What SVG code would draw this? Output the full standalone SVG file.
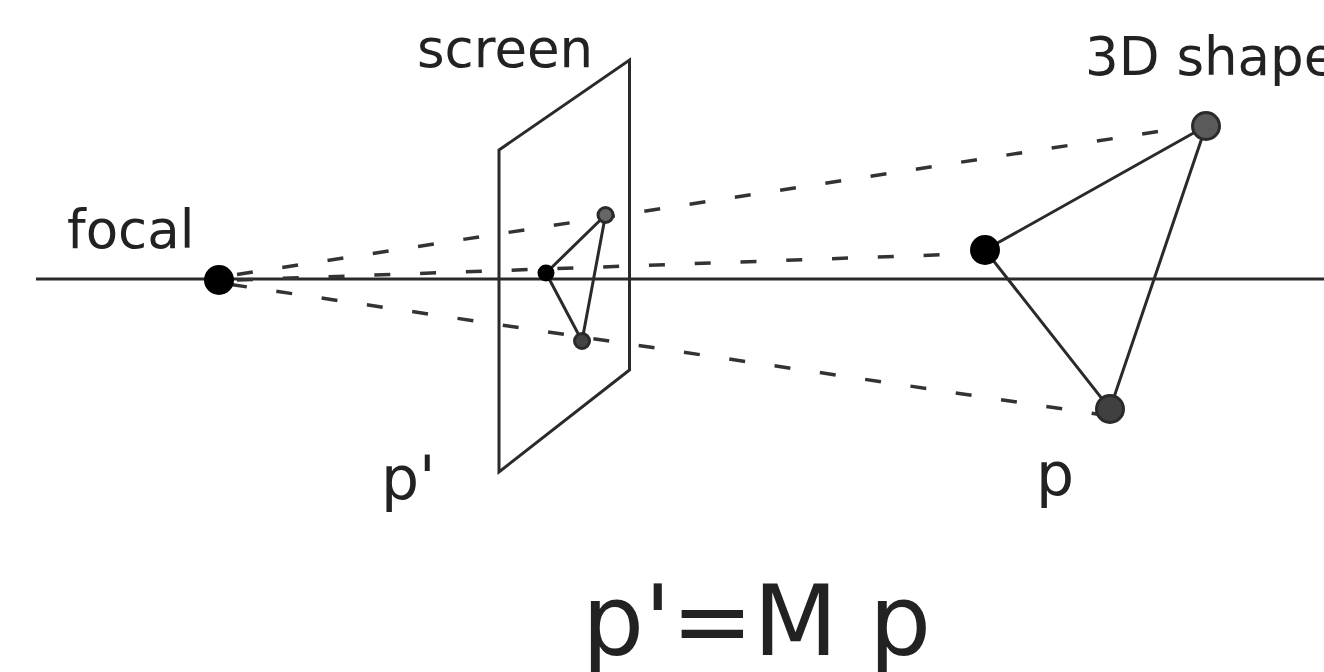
<svg xmlns="http://www.w3.org/2000/svg" width="1324" height="672" viewBox="0 0 1324 672">
<style>
text{font-family:"DejaVu Sans",sans-serif;fill:#222}
.l{fill:none;stroke:#2a2a2a;stroke-width:3}
.d{fill:none;stroke:#333;stroke-width:3.5;stroke-dasharray:16 29.8}
.n{stroke:#2a2a2a;stroke-width:3}
</style>
<rect width="1324" height="672" fill="#fff"/>
<g id="connectors">
<path class="l" d="M36 279H1324"/>
<path class="d" d="M237 274.5L1165 130.5"/>
<path class="d" d="M237 280L968 253.8"/>
<path class="d" d="M231 284.5L1100 414.500"/>
<path class="l" d="M1206 126L985 250L1110 409Z"/>
<path class="l" d="M605.500 215L546 273L582 341Z"/>
</g>
<g id="screen"><path class="l" d="M499 150L629.500 60V370L499 472Z"/></g>
<g id="focal-point"><circle cx="219" cy="280" r="15" fill="#000"/></g>
<g id="p1"><circle cx="1206" cy="126" r="13.500" fill="#5a5a5a" class="n"/></g>
<g id="p2"><circle cx="985" cy="250" r="15" fill="#000"/></g>
<g id="p3"><circle cx="1110" cy="409" r="13.500" fill="#404040" class="n"/></g>
<g id="q1"><circle cx="605.500" cy="215" r="7.500" fill="#666" class="n"/></g>
<g id="q2"><circle cx="546" cy="273" r="8.500" fill="#000"/></g>
<g id="q3"><circle cx="582" cy="341" r="7.500" fill="#444" class="n"/></g>
<g id="labels">
<text x="417" y="67" font-size="53">screen</text>
<text x="1085" y="75" font-size="53">3D shape</text>
<text x="67" y="248" font-size="53">focal</text>
<text x="381" y="499" font-size="60">p'</text>
<text x="1036" y="495" font-size="60">p</text>
<text x="582" y="655" font-size="98">p'=M p</text>
</g>
</svg>
